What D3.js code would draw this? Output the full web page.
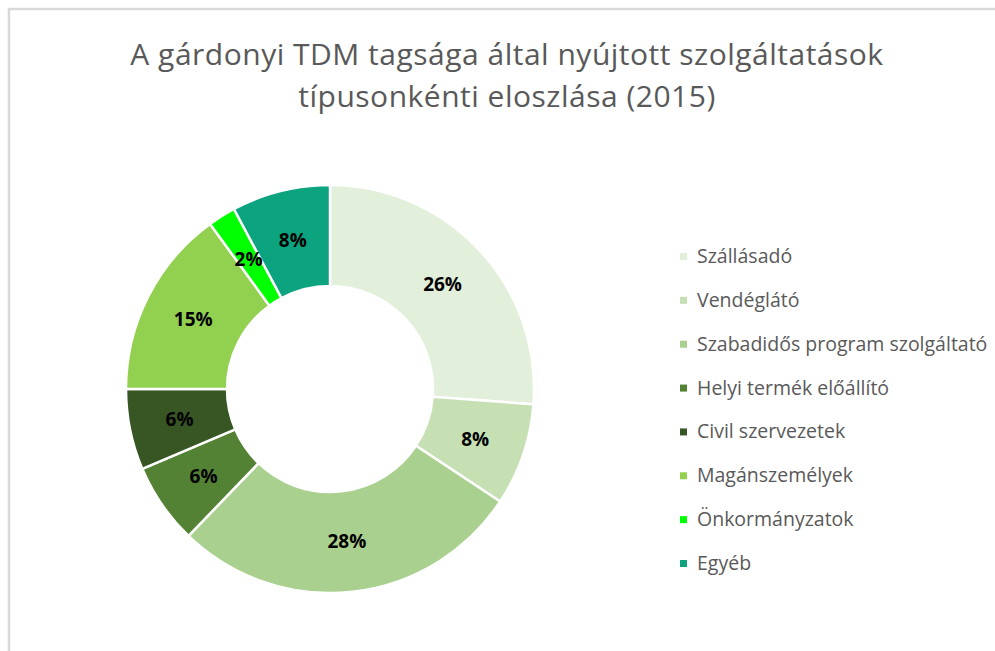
<!DOCTYPE html>
<html>
<head>
<meta charset="utf-8">
<script src="https://cdnjs.cloudflare.com/ajax/libs/d3/7.8.5/d3.min.js"></script>
<style>
  body { margin: 0; background: #fff; }
  text { font-family: "Open Sans", "Noto Sans", sans-serif; }
</style>
</head>
<body>
<svg id="chart" width="995" height="651"></svg>
<script>
// Values (share of members, %)
var categories = ['Szállásadó', 'Vendéglátó', 'Szabadidős program szolgáltató',
  'Helyi termék előállító', 'Civil szervezetek', 'Magánszemélyek',
  'Önkormányzatok', 'Egyéb'];
var values = [26.2, 8.1, 27.9, 6.4, 6.4, 15.0, 2.2, 7.8];
var colors = ['#e2efda', '#c6e0b4', '#a9d08e', '#548235', '#375623',
  '#92d050', '#00ff00', '#0ca37f'];
var titleLines = ['A gárdonyi TDM tagsága által nyújtott szolgáltatások',
  'típusonkénti eloszlása (2015)'];

var svg = d3.select('#chart');
var width = +svg.attr('width');
var height = +svg.attr('height');

// chart area frame (cut off at right and bottom)
svg.append('rect')
    .attr('x', 9).attr('y', 9)
    .attr('width', width + 20).attr('height', height + 20)
    .attr('fill', '#fff')
    .attr('stroke', '#d9d9d9')
    .attr('stroke-width', 2.5);

svg.append('g').selectAll('text').data(titleLines)
  .enter().append('text')
    .attr('x', 507)
    .attr('y', function (d, i) { return 65 + i * 42; })
    .attr('text-anchor', 'middle')
    .attr('fill', '#595959')
    .style('font-size', '30px')
    .style('letter-spacing', '0.5px')
    .text(function (d) { return d; });

var total = d3.sum(values);
var cx = 330, cy = 389;
var outerR = 204, innerR = 103;

var pie = d3.pie().sort(null).value(function (d) { return d; });
var arc = d3.arc().innerRadius(innerR).outerRadius(outerR);

var arcs = pie(values);
var g = svg.append('g').attr('transform', 'translate(' + cx + ',' + cy + ')');

g.selectAll('path').data(arcs)
  .enter().append('path')
    .attr('d', arc)
    .attr('fill', function (d, i) { return colors[i]; })
    .attr('stroke', '#fff')
    .attr('stroke-width', 2.5);

g.selectAll('text').data(arcs)
  .enter().append('text')
    .attr('transform', function (d) { return 'translate(' + arc.centroid(d) + ')'; })
    .attr('text-anchor', 'middle')
    .attr('dy', '0.36em')
    .attr('fill', '#000')
    .style('font-size', '19px')
    .style('font-weight', 'bold')
    .text(function (d) { return Math.round(d.value / total * 100) + '%'; });

// legend
var legendY = d3.scalePoint().domain(categories).range([256, 563]);
var legend = svg.append('g').selectAll('g').data(categories)
  .enter().append('g')
    .attr('transform', function (d) { return 'translate(680,' + legendY(d) + ')'; });

legend.append('rect')
    .attr('x', 0).attr('y', -3)
    .attr('width', 7).attr('height', 7)
    .attr('fill', function (d, i) { return colors[i]; });

legend.append('text')
    .attr('x', 17)
    .attr('y', 7)
    .attr('fill', '#595959')
    .style('font-size', '19.5px')
    .text(function (d) { return d; });
</script>
</body>
</html>
